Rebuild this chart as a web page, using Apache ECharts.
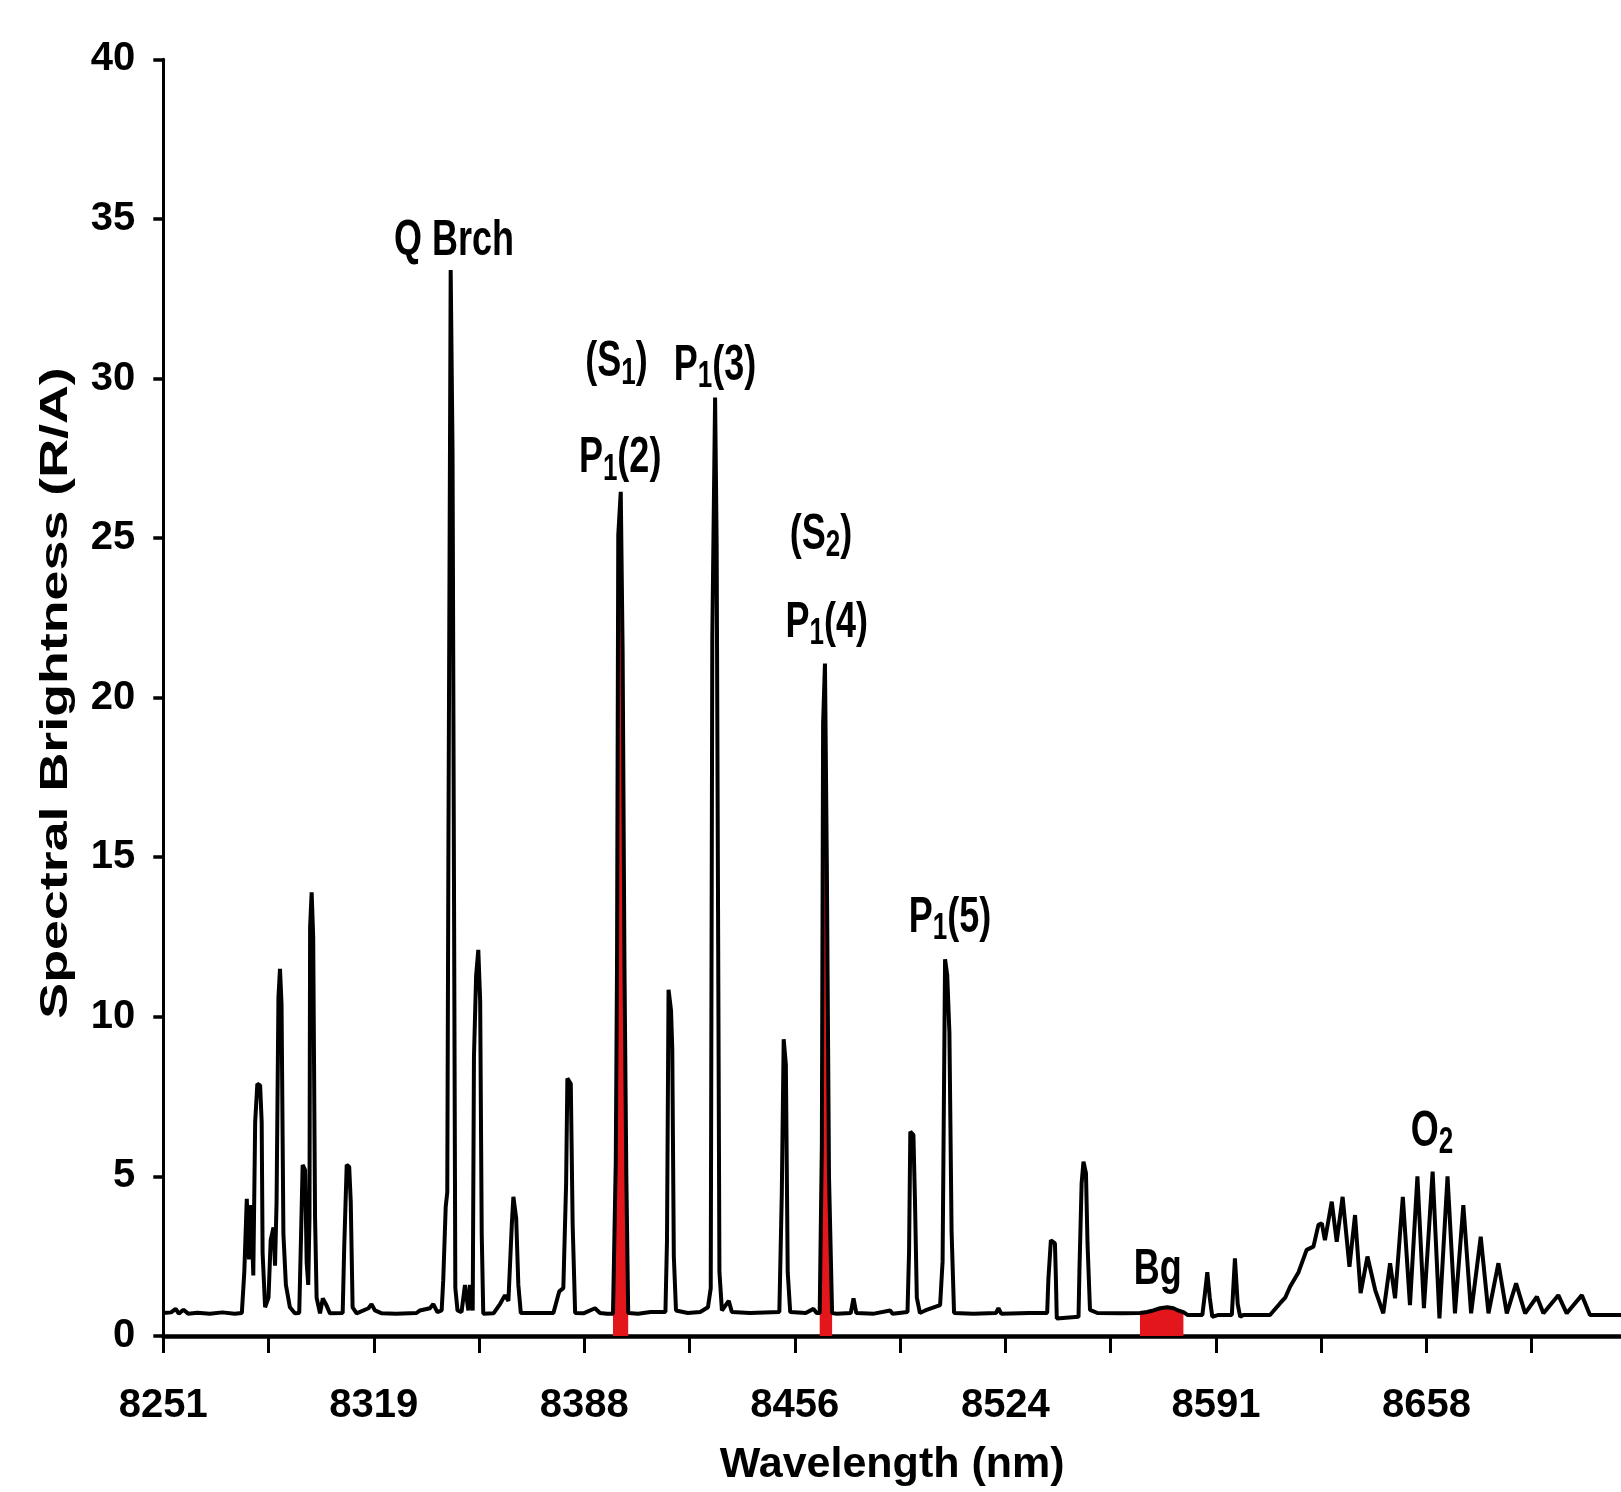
<!DOCTYPE html>
<html>
<head>
<meta charset="utf-8">
<script src="https://cdn.jsdelivr.net/npm/echarts@6/dist/echarts.min.js"></script>
<style>
html,body{margin:0;padding:0;background:#fff;}
#chart{width:1621px;height:1492px;}
</style>
</head>
<body>
<div id="chart"></div>
<script>
// ---------- data ----------
const tickLabels = ['8251', '8319', '8388', '8456', '8524', '8591', '8658'];
const yTickValues = [0, 5, 10, 15, 20, 25, 30, 35, 40];

const wavelengthNm = [
  8251.0, 8253.5, 8255.0, 8256.0, 8257.5, 8259.0, 8262.0, 8266.0, 8270.0, 8274.0,
  8276.3, 8277.1, 8277.9, 8278.6, 8279.3, 8280.0, 8280.6, 8281.3, 8282.2, 8282.7,
  8283.0, 8283.8, 8284.9, 8285.6, 8286.5, 8287.0, 8287.5, 8288.1, 8288.6, 8289.1,
  8289.7, 8290.5, 8291.8, 8293.4, 8294.8, 8295.4, 8295.9, 8296.7, 8297.2, 8297.7,
  8298.1, 8298.3, 8298.8, 8299.3, 8299.9, 8300.4, 8301.5, 8302.4, 8303.4, 8304.7,
  8308.8, 8309.3, 8310.1, 8310.9, 8311.4, 8312.0, 8313.3, 8317.1, 8318.1, 8319.2,
  8321.4, 8326.0, 8332.6, 8333.7, 8336.9, 8338.0, 8339.3, 8340.7, 8341.2, 8342.0,
  8342.5, 8342.9, 8343.6, 8344.2, 8345.1, 8345.8, 8347.1, 8348.2, 8349.3, 8349.8,
  8350.7, 8351.1, 8351.8, 8352.5, 8353.1, 8353.6, 8354.1, 8357.4, 8359.5, 8361.1,
  8362.2, 8363.3, 8363.8, 8364.7, 8365.4, 8366.2, 8376.7, 8378.6, 8379.9, 8380.8,
  8381.2, 8382.3, 8382.9, 8383.7, 8386.4, 8390.1, 8391.7, 8394.0, 8395.9, 8396.8,
  8397.2, 8397.6, 8398.4, 8399.0, 8399.6, 8400.2, 8400.8, 8404.0, 8408.0, 8412.8,
  8413.3, 8413.8, 8414.6, 8415.0, 8415.5, 8416.2, 8420.0, 8424.0, 8426.5, 8427.4,
  8427.9, 8428.8, 8429.3, 8430.2, 8431.0, 8433.2, 8434.2, 8440.0, 8449.5, 8450.3,
  8450.9, 8451.6, 8452.2, 8453.0, 8458.0, 8460.5, 8461.5, 8462.5, 8463.2, 8463.6,
  8464.2, 8464.8, 8465.5, 8466.5, 8468.0, 8472.5, 8473.4, 8474.3, 8480.0, 8485.2,
  8486.0, 8490.8, 8491.3, 8491.7, 8492.7, 8493.2, 8493.8, 8494.8, 8496.5, 8501.3,
  8502.1, 8502.9, 8503.6, 8504.3, 8505.0, 8505.8, 8512.0, 8519.3, 8520.1, 8521.0,
  8530.0, 8535.8, 8536.2, 8537.0, 8538.3, 8538.6, 8538.9, 8545.9, 8546.2, 8546.9,
  8547.5, 8548.3, 8548.8, 8549.6, 8552.0, 8560.0, 8565.7, 8568.0, 8570.0, 8572.2,
  8574.5, 8576.5, 8578.0, 8579.7, 8581.0, 8585.8, 8586.6, 8587.4, 8588.2, 8589.0,
  8591.0, 8595.3, 8596.3, 8597.2, 8598.0, 8599.0, 8607.6, 8610.8, 8612.5, 8614.1,
  8616.8, 8619.4, 8621.6, 8623.2, 8624.3, 8625.3, 8627.5, 8629.1, 8631.0, 8633.2,
  8635.0, 8636.8, 8639.0, 8641.5, 8644.1, 8646.3, 8647.9, 8650.4, 8652.7, 8655.1,
  8657.2, 8660.0, 8662.2, 8664.8, 8667.2, 8669.9, 8672.4, 8675.5, 8678.0, 8681.2,
  8683.9, 8686.9, 8689.8, 8693.6, 8695.7, 8700.5, 8703.2, 8708.1, 8710.7, 8720.7
];

const brightness = [
  0.72, 0.74, 0.85, 0.70, 0.82, 0.70, 0.73, 0.70, 0.74, 0.70,
  0.72, 2.0, 4.3, 2.4, 4.1, 1.9, 6.7, 7.9, 7.85, 6.7,
  2.6, 0.9, 1.2, 3.0, 3.4, 2.2, 4.2, 10.6, 11.5, 10.4,
  3.2, 1.6, 0.9, 0.71, 0.72, 3.2, 5.36, 5.2, 2.3, 1.6,
  3.7, 12.8, 13.9, 12.5, 3.7, 1.2, 0.71, 1.18, 1.0, 0.71,
  0.72, 2.8, 5.36, 5.3, 4.2, 0.9, 0.71, 0.87, 1.0, 0.8,
  0.71, 0.70, 0.72, 0.80, 0.87, 1.0, 0.75, 0.80, 1.75, 4.05,
  4.5, 16.1, 33.4, 27.7, 1.5, 0.8, 0.75, 1.6, 0.8, 1.6,
  0.8, 8.75, 11.3, 12.1, 10.5, 3.2, 0.7, 0.71, 1.0, 1.28,
  1.1, 3.5, 4.36, 3.7, 1.6, 0.72, 0.72, 1.4, 1.5, 4.8,
  8.07, 7.9, 3.5, 0.72, 0.71, 0.87, 0.72, 0.70, 0.70, 5.5,
  11.7, 25.1, 26.45, 21.5, 11.5, 5.0, 0.72, 0.70, 0.75, 0.75,
  3.0, 10.85, 10.2, 9.0, 2.5, 0.8, 0.72, 0.75, 0.9, 1.5,
  21.9, 29.4, 24.8, 2.0, 0.8, 1.1, 0.75, 0.72, 0.75, 4.5,
  9.3, 8.5, 2.0, 0.75, 0.72, 0.85, 0.72, 0.72, 6.0, 19.2,
  21.07, 14.8, 5.0, 0.72, 0.70, 0.72, 1.18, 0.72, 0.70, 0.80,
  0.70, 0.75, 2.64, 6.4, 6.3, 4.26, 1.2, 0.72, 0.8, 0.97,
  2.33, 11.8, 11.3, 9.5, 3.27, 0.72, 0.70, 0.72, 0.87, 0.70,
  0.72, 0.72, 1.8, 3.0, 2.9, 1.86, 0.55, 0.6, 2.07, 4.78,
  5.46, 5.1, 2.9, 0.82, 0.72, 0.71, 0.72, 0.75, 0.8, 0.87,
  0.9, 0.87, 0.8, 0.75, 0.66, 0.66, 1.3, 2.0, 1.2, 0.6,
  0.66, 0.66, 2.43, 1.0, 0.6, 0.66, 0.66, 1.02, 1.2, 1.55,
  2.0, 2.7, 2.8, 3.48, 3.53, 3.0, 4.21, 2.95, 4.36, 2.17,
  3.79, 1.34, 2.49, 1.44, 0.71, 2.28, 1.18, 4.36, 0.97, 5.0,
  0.87, 5.15, 0.55, 5.0, 0.71, 4.1, 0.71, 3.11, 0.71, 2.28,
  0.71, 1.65, 0.71, 1.23, 0.71, 1.28, 0.71, 1.28, 0.66, 0.66
];

// wavelength windows shaded red (the two filter lines and the background band)
const redWindows = [[8395.9, 8400.8], [8462.5, 8466.5], [8565.7, 8579.7]];

// annotation texts and where they sit (wavelength, brightness)
const annotations = [
  { text: 'Q Brch', lam: 8344.7, val: 34.3 },
  { text: '(S{s|1})', lam: 8397.0, val: 30.5 },
  { text: 'P{s|1}(3)', lam: 8428.8, val: 30.4 },
  { text: 'P{s|1}(2)', lam: 8398.2, val: 27.5 },
  { text: '(S{s|2})', lam: 8462.9, val: 25.1 },
  { text: 'P{s|1}(4)', lam: 8464.8, val: 22.35 },
  { text: 'P{s|1}(5)', lam: 8504.5, val: 13.1 },
  { text: 'Bg', lam: 8571.4, val: 2.05 },
  { text: 'O{s|2}', lam: 8659.8, val: 6.4 }
];

// ---------- chart ----------
const X_MIN = Number(tickLabels[0]);
const X_MAX = 8720.7;
const labelStep = (Number(tickLabels[tickLabels.length - 1]) - X_MIN) / (tickLabels.length - 1);
const tickValues = [];
for (let v = X_MIN; v <= X_MAX + 1e-6; v += labelStep / 2) tickValues.push(v);
const labelValues = tickLabels.map((t, i) => X_MIN + i * labelStep);

const font = '"Liberation Sans", Arial, Helvetica, sans-serif';

const spectrum = wavelengthNm.map((w, i) => [w, brightness[i]]);
const redSeries = redWindows.map(win => ({
  type: 'line',
  data: spectrum.filter(p => p[0] >= win[0] - 1e-9 && p[0] <= win[1] + 1e-9),
  symbol: 'none',
  lineStyle: { width: 0, color: '#e3161c' },
  areaStyle: { color: '#e3161c', opacity: 1 },
  z: 2,
  silent: true
}));

const chart = echarts.init(document.getElementById('chart'), null, { renderer: 'canvas' });

const option = {
  backgroundColor: '#ffffff',
  animation: false,
  grid: { left: 163.3, right: 0, top: 59.3, bottom: 156 },
  xAxis: {
    type: 'value',
    min: X_MIN,
    max: X_MAX,
    axisLine: { show: true, onZero: false, lineStyle: { color: '#000', width: 4.5 } },
    axisTick: { show: true, customValues: tickValues, length: 17, lineStyle: { color: '#000', width: 3 } },
    axisLabel: {
      customValues: labelValues,
      formatter: v => tickLabels[Math.round((v - X_MIN) / labelStep)],
      margin: 50,
      color: '#000',
      fontFamily: font,
      fontWeight: 'bold',
      fontSize: 40
    },
    splitLine: { show: false },
    name: 'Wavelength (nm)',
    nameLocation: 'middle',
    nameGap: 108,
    nameTextStyle: { color: '#000', fontFamily: font, fontWeight: 'bold', fontSize: 43 }
  },
  yAxis: {
    type: 'value',
    min: yTickValues[0],
    max: yTickValues[yTickValues.length - 1],
    interval: yTickValues[1] - yTickValues[0],
    axisLine: { show: true, lineStyle: { color: '#000', width: 3 } },
    axisTick: { show: true, length: 10, lineStyle: { color: '#000', width: 3.5 } },
    axisLabel: { margin: 28, color: '#000', fontFamily: font, fontWeight: 'bold', fontSize: 40 },
    splitLine: { show: false }
  },
  series: redSeries.concat([{
    type: 'line',
    name: 'Spectrum',
    data: spectrum,
    symbol: 'none',
    lineStyle: { color: '#000', width: 4 },
    z: 3
  }])
};
chart.setOption(option);

const subStyle = { fontSize: 26, fontWeight: 'bold', fontFamily: font, fill: '#000', verticalAlign: 'bottom', lineHeight: 42 };
const graphics = annotations.map(a => {
  const p = chart.convertToPixel({ gridIndex: 0 }, [a.lam, a.val]);
  return {
    type: 'text', x: p[0], y: p[1], scaleY: 1.4, silent: true, z: 10,
    style: {
      text: a.text, fontSize: 36, fontWeight: 'bold', fontFamily: font, fill: '#000',
      align: 'center', verticalAlign: 'middle', rich: { s: subStyle }
    }
  };
});
graphics.push({
  type: 'text', x: 57, y: 693, rotation: Math.PI / 2, scaleX: 1.415, silent: true,
  style: {
    text: 'Spectral Brightness (R/A)', fontSize: 38, fontWeight: 'bold', fontFamily: font,
    fill: '#000', align: 'center', verticalAlign: 'middle'
  }
});
chart.setOption({ graphic: graphics });
</script>
</body>
</html>
